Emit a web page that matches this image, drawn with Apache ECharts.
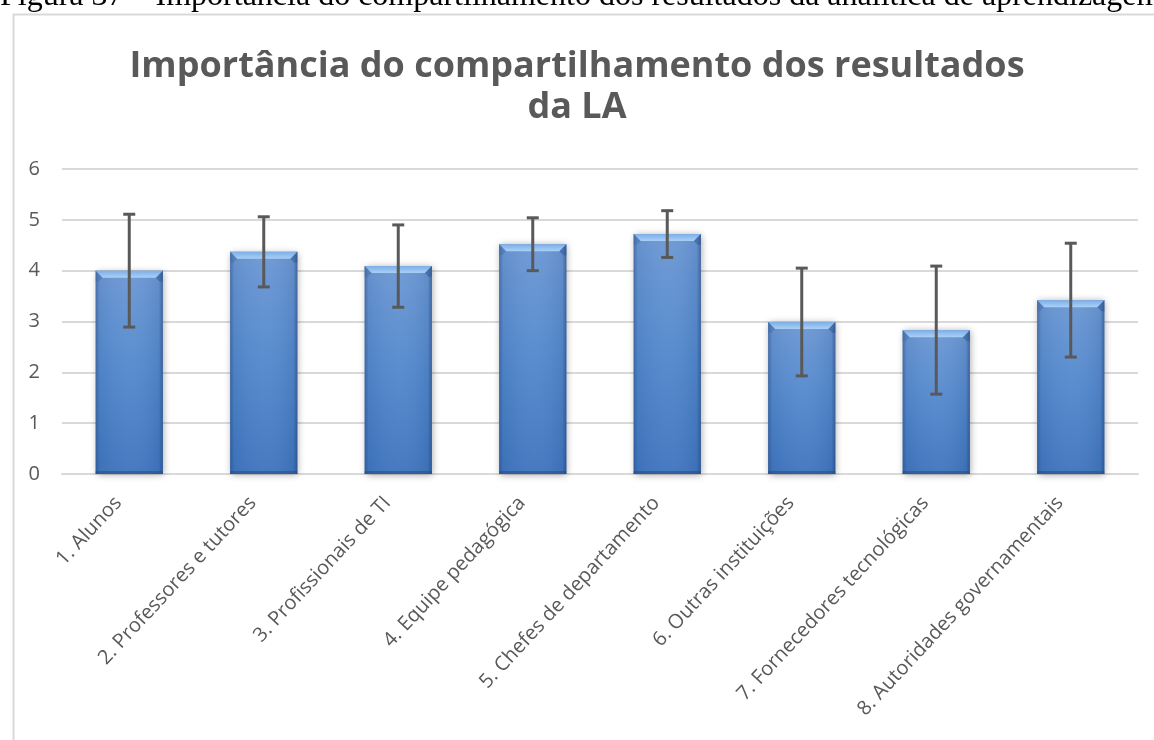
<!DOCTYPE html>
<html>
<head>
<meta charset="utf-8">
<script src="https://cdn.jsdelivr.net/npm/echarts@6/dist/echarts.min.js"></script>
<style>
  html, body { margin: 0; padding: 0; background: #fff; }
  #chart { width: 1154px; height: 740px; }
</style>
</head>
<body>
<div id="chart"></div>
<script>
// Stakeholder groups and their mean importance scores with standard deviations
const categories = [
  '1. Alunos',
  '2. Professores e tutores',
  '3. Profissionais de TI',
  '4. Equipe pedagógica',
  '5. Chefes de departamento',
  '6. Outras instituições',
  '7. Fornecedores tecnológicas',
  '8. Autoridades governamentais'
];
const means = [4.00, 4.37, 4.09, 4.52, 4.72, 2.99, 2.83, 3.42];
const stdDevs = [1.11, 0.69, 0.81, 0.52, 0.46, 1.06, 1.26, 1.12];
const yTicks = [0, 1, 2, 3, 4, 5, 6];

const captionText = 'Figura 37 – Importância do compartilhamento dos resultados da analítica de aprendizagem';
const titleText = 'Importância do compartilhamento dos resultados\nda LA';

const textGray = '#595959';
const gridGray = '#d9d9d9';

const chart = echarts.init(document.getElementById('chart'), null, { renderer: 'canvas' });

// Bevelled bar: face gradient, darker rim and a light top chamfer
function renderBar(params, api) {
  const idx = api.value(0);
  const val = api.value(1);
  const top = api.coord([idx, val]);
  const base = api.coord([idx, 0]);
  const w = api.size([1, 0])[0] * 0.5;
  const x0 = top[0] - w / 2, x1 = top[0] + w / 2;
  const y0 = top[1], y1 = base[1];
  const h = y1 - y0;
  const b = 7;  // chamfer depth
  const s = 3;  // rim thickness
  return {
    type: 'group',
    children: [
      {
        type: 'rect',
        shape: { x: x0, y: y0, width: w, height: h },
        style: {
          fill: new echarts.graphic.LinearGradient(0, 0, 0, 1, [
            { offset: 0, color: '#6c98d4' },
            { offset: 0.5, color: '#5288cd' },
            { offset: 1, color: '#3f75be' }
          ]),
          shadowBlur: 7,
          shadowColor: 'rgba(0,0,0,0.35)',
          shadowOffsetX: 1,
          shadowOffsetY: 1
        }
      },
      {
        type: 'rect',
        shape: { x: x0, y: y0, width: w, height: h },
        style: {
          fill: new echarts.graphic.LinearGradient(0, 0, 1, 0, [
            { offset: 0, color: 'rgba(30,60,110,0.45)' },
            { offset: 0.06, color: 'rgba(30,60,110,0.08)' },
            { offset: 0.5, color: 'rgba(255,255,255,0.04)' },
            { offset: 0.94, color: 'rgba(30,60,110,0.1)' },
            { offset: 1, color: 'rgba(30,60,110,0.55)' }
          ])
        }
      },
      {
        type: 'rect',
        shape: { x: x0, y: y1 - s, width: w, height: s },
        style: { fill: 'rgba(35,75,135,0.55)' }
      },
      {
        type: 'polygon',
        shape: { points: [[x0, y0], [x1, y0], [x1 - b, y0 + b], [x0 + b, y0 + b]] },
        style: {
          fill: new echarts.graphic.LinearGradient(0, 0, 0, 1, [
            { offset: 0, color: '#7eaee6' },
            { offset: 1, color: '#a9d0f6' }
          ])
        }
      },
      {
        type: 'polygon',
        shape: { points: [[x0, y0], [x0 + b, y0 + b], [x0 + s, y0 + b + 4], [x0, y0 + b + 4]] },
        style: { fill: 'rgba(60,100,160,0.35)' }
      },
      {
        type: 'polygon',
        shape: { points: [[x1, y0], [x1 - b, y0 + b], [x1 - s, y0 + b + 4], [x1, y0 + b + 4]] },
        style: { fill: 'rgba(40,80,140,0.45)' }
      }
    ]
  };
}

// Error bar: vertical whisker with caps at mean ± sd
function renderErr(params, api) {
  const idx = api.value(0);
  const m = api.value(1);
  const sd = api.value(2);
  const hi = api.coord([idx, m + sd]);
  const lo = api.coord([idx, m - sd]);
  const cap = 6;
  const st = { stroke: '#595959', lineWidth: 3 };
  return {
    type: 'group',
    children: [
      { type: 'line', shape: { x1: hi[0], y1: hi[1], x2: lo[0], y2: lo[1] }, style: st },
      { type: 'line', shape: { x1: hi[0] - cap, y1: hi[1], x2: hi[0] + cap, y2: hi[1] }, style: st },
      { type: 'line', shape: { x1: lo[0] - cap, y1: lo[1], x2: lo[0] + cap, y2: lo[1] }, style: st }
    ]
  };
}

const barData = means.map((v, i) => [i, v]);
const errData = means.map((v, i) => [i, v, stdDevs[i]]);

chart.setOption({
  backgroundColor: '#fff',
  animation: false,
  title: {
    text: titleText,
    left: 'center',
    top: 41,
    textStyle: {
      fontFamily: 'Open Sans',
      fontWeight: 'bold',
      fontSize: 36,
      lineHeight: 41,
      color: textGray
    }
  },
  graphic: [
    {
      type: 'rect',
      left: 11, top: 12,
      shape: { width: 1200, height: 800 },
      style: { fill: 'none', stroke: gridGray, lineWidth: 2 },
      z: 0
    },
    {
      type: 'text',
      left: 0, top: -19,
      style: {
        text: captionText,
        font: '32px "Liberation Serif"',
        fill: '#000'
      },
      z: 10
    }
  ],
  grid: { left: 62, right: 16, top: 169, bottom: 266, containLabel: false },
  xAxis: {
    type: 'category',
    data: categories,
    axisLine: { show: true, lineStyle: { color: gridGray, width: 2 } },
    axisTick: { show: false },
    axisLabel: {
      interval: 0,
      rotate: 47,
      margin: 14,
      padding: [0, 16, 0, 0],
      fontFamily: 'Open Sans',
      fontSize: 20,
      color: textGray
    }
  },
  yAxis: {
    type: 'value',
    min: yTicks[0],
    max: yTicks[yTicks.length - 1],
    interval: 1,
    axisLine: { show: false },
    axisTick: { show: false },
    splitLine: { lineStyle: { color: gridGray, width: 2 } },
    axisLabel: {
      margin: 22,
      fontFamily: 'Open Sans',
      fontSize: 20,
      color: textGray
    }
  },
  series: [
    {
      type: 'custom',
      renderItem: renderBar,
      data: barData,
      encode: { x: 0, y: 1 },
      z: 2
    },
    {
      type: 'custom',
      renderItem: renderErr,
      data: errData,
      encode: { x: 0, y: 1 },
      z: 3
    }
  ]
});
</script>
</body>
</html>
